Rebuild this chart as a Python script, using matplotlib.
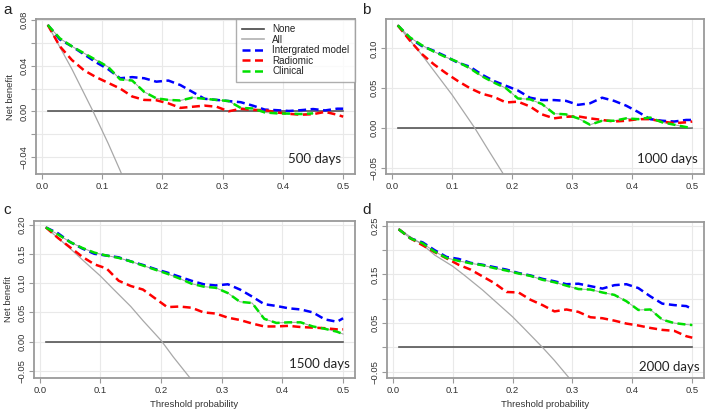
import numpy as np
import matplotlib.pyplot as plt
from matplotlib.lines import Line2D

plt.rcParams["font.family"] = ["Liberation Sans", "DejaVu Sans"]

thresholds = [0.01, 0.03, 0.05, 0.07, 0.09, 0.11, 0.13, 0.15, 0.17, 0.19, 0.21, 0.23, 0.25,
              0.27, 0.29, 0.31, 0.33, 0.35, 0.37, 0.39, 0.41, 0.43, 0.45, 0.47, 0.49, 0.50]
none_x = [0.01, 0.50]
none_y = [0.0, 0.0]

xticks = [0.0, 0.1, 0.2, 0.3, 0.4, 0.5]
xtick_labels = ["0.0", "0.1", "0.2", "0.3", "0.4", "0.5"]
legend_labels = ["None", "All", "Intergrated model", "Radiomic", "Clinical"]

# a - 500 days
a_integrated = [0.0757, 0.063, 0.057, 0.050, 0.043, 0.037, 0.029, 0.030, 0.029, 0.026, 0.027, 0.023, 0.017,
                0.011, 0.010, 0.009, 0.008, 0.005, 0.0015, 0.001, 0.0003, 0.001, 0.002, 0.0008, 0.0023, 0.0023]
a_radiomic = [0.0757, 0.057, 0.045, 0.036, 0.030, 0.025, 0.020, 0.013, 0.010, 0.0097, 0.007, 0.003, 0.004,
              0.005, 0.004, 0.000, 0.0022, 0.0012, 0.0011, -0.001, -0.0022, -0.003, -0.0025, -0.0005, -0.003, -0.0047]
a_clinical = [0.0757, 0.064, 0.057, 0.051, 0.045, 0.039, 0.028, 0.027, 0.017, 0.0114, 0.010, 0.0095, 0.012,
              0.011, 0.010, 0.009, 0.003, 0.0025, -0.001, -0.0018, -0.002, -0.0024, -0.0018, np.nan, np.nan, np.nan]
a_all_x = [0.01, 0.05, 0.085, 0.11, 0.13, 0.15]
a_all = [0.0757, 0.037, 0.0, -0.028, -0.052, -0.077]
a_yticks = [-0.04, -0.02, 0.0, 0.02, 0.04, 0.06, 0.08]
a_ylabels = ["\u22120.04", "", "0.00", "", "0.04", "", "0.08"]

# b - 1000 days
b_integrated = [0.129, 0.113, 0.103, 0.097, 0.090, 0.082, 0.077, 0.067, 0.059, 0.053, 0.047, 0.038, 0.035,
                0.035, 0.034, 0.029, 0.031, 0.038, 0.034, 0.028, 0.020, 0.011, 0.009, 0.008, 0.010, 0.010]
b_radiomic = [0.129, 0.110, 0.093, 0.080, 0.069, 0.059, 0.050, 0.043, 0.039, 0.032, 0.033, 0.027, 0.017,
              0.012, 0.014, 0.0145, 0.012, 0.010, 0.008, 0.009, 0.011, 0.011, 0.008, 0.006, 0.007, 0.008]
b_clinical = [0.129, 0.114, 0.104, 0.096, 0.089, 0.083, 0.075, 0.065, 0.057, 0.050, 0.037, 0.036, 0.030,
              0.018, 0.017, 0.012, 0.004, 0.009, 0.009, 0.012, 0.011, 0.013, 0.007, 0.004, 0.001, 0.000]
b_all_x = [0.01, 0.05, 0.10, 0.138, 0.16, 0.184, 0.20]
b_all = [0.129, 0.092, 0.042, 0.0, -0.027, -0.056, -0.078]
b_yticks = [-0.05, 0.0, 0.05, 0.10]
b_ylabels = ["\u22120.05", "0.00", "0.05", "0.10"]

# c - 1500 days
c_integrated = [0.195, 0.185, 0.170, 0.159, 0.150, 0.147, 0.144, 0.137, 0.131, 0.124, 0.118, 0.111, 0.104,
                0.098, 0.096, 0.098, 0.089, 0.077, 0.064, 0.061, 0.057, 0.055, 0.050, 0.038, 0.034, 0.040]
c_radiomic = [0.195, 0.177, 0.161, 0.145, 0.132, 0.125, 0.104, 0.095, 0.089, 0.074, 0.059, 0.060, 0.058,
              0.050, 0.048, 0.041, 0.037, 0.031, 0.026, 0.026, 0.027, 0.025, 0.024, 0.023, 0.021, 0.021]
c_clinical = [0.195, 0.183, 0.170, 0.160, 0.152, 0.147, 0.143, 0.137, 0.130, 0.123, 0.116, 0.108, 0.099,
              0.094, 0.092, 0.083, 0.068, 0.066, 0.039, 0.032, 0.033, 0.033, 0.026, 0.022, 0.017, 0.013]
c_all_x = [0.01, 0.03, 0.05, 0.07, 0.10, 0.12, 0.15, 0.17, 0.20, 0.22, 0.25, 0.27]
c_all = [0.195, 0.177, 0.159, 0.140, 0.112, 0.091, 0.060, 0.036, 0.002, -0.026, -0.065, -0.095]
c_yticks = [-0.05, 0.0, 0.05, 0.10, 0.15, 0.20]
c_ylabels = ["\u22120.05", "0.00", "0.05", "0.10", "0.15", "0.20"]

# d - 2000 days
d_integrated = [0.243, 0.224, 0.216, 0.200, 0.186, 0.182, 0.174, 0.170, 0.165, 0.160, 0.153, 0.148, 0.141,
                0.136, 0.130, 0.131, 0.126, 0.121, 0.128, 0.130, 0.122, 0.105, 0.090, 0.087, 0.085, 0.079]
d_radiomic = [0.243, 0.224, 0.210, 0.196, 0.183, 0.170, 0.160, 0.146, 0.132, 0.114, 0.113, 0.098, 0.087,
              0.074, 0.078, 0.073, 0.062, 0.060, 0.055, 0.049, 0.045, 0.040, 0.036, 0.034, 0.023, 0.020]
d_clinical = [0.243, 0.224, 0.214, 0.197, 0.184, 0.178, 0.173, 0.169, 0.163, 0.158, 0.152, 0.147, 0.139,
              0.134, 0.127, 0.120, 0.119, 0.113, 0.108, 0.095, 0.077, 0.078, 0.057, 0.050, 0.047, 0.046]
d_all_x = [0.01, 0.03, 0.05, 0.07, 0.10, 0.12, 0.15, 0.17, 0.20, 0.22, 0.25, 0.27, 0.30, 0.32]
d_all = [0.244, 0.227, 0.211, 0.190, 0.167, 0.148, 0.118, 0.096, 0.063, 0.038, 0.000, -0.027, -0.071, -0.103]
d_yticks = [-0.05, 0.0, 0.05, 0.10, 0.15, 0.20, 0.25]
d_ylabels = ["\u22120.05", "", "0.05", "", "0.15", "", "0.25"]

GRAY_AXIS = "#9a9a9a"
TXT = "#333333"


def draw_panel(ax, integrated, radiomic, clinical, all_x, all_y, ylim, yticks, ylabels, days, days_pos):
    ax.set_xlim(-0.0096, 0.5196)
    ax.set_ylim(*ylim)
    ax.set_xticks(xticks)
    ax.set_xticklabels(xtick_labels)
    ax.set_yticks(yticks)
    ax.set_yticklabels(ylabels, rotation=90, va="center")
    ax.tick_params(labelsize=6.8, colors=TXT, length=3.5, width=0.8, pad=2)
    ax.tick_params(color=GRAY_AXIS)
    for s in ax.spines.values():
        s.set_color(GRAY_AXIS)
        s.set_linewidth(1.3)
    ax.grid(True, color="#e9e9e9", linewidth=0.8)
    ax.set_axisbelow(True)

    ax.plot(none_x, none_y, color="#555555", lw=1.2)
    ax.plot(all_x, all_y, color="#a8a8a8", lw=0.9)
    ax.plot(thresholds, clinical, color="#a0a0a0", lw=0.7)
    ax.plot(thresholds, integrated, color="blue", lw=1.8, dashes=(3.2, 1.8))
    ax.plot(thresholds, radiomic, color="red", lw=1.8, dashes=(3.2, 1.8))
    ax.plot(thresholds, clinical, color="#00e000", lw=1.8, dashes=(3.2, 1.8))

    ax.text(days_pos[0], days_pos[1], days, transform=ax.transAxes, ha="right", va="baseline",
            fontsize=9.5, color="#222222", family=["Lato", "DejaVu Sans"])


fig = plt.figure(figsize=(7.09, 4.18), dpi=100)
W, H = 709, 418

ax_a = fig.add_axes([36 / W, 1 - 174 / H, 319 / W, 155 / H])
ax_b = fig.add_axes([386 / W, 1 - 174 / H, 318 / W, 155 / H])
ax_c = fig.add_axes([34 / W, 1 - 378 / H, 321 / W, 157 / H])
ax_d = fig.add_axes([387 / W, 1 - 378 / H, 317 / W, 156 / H])

draw_panel(ax_a, a_integrated, a_radiomic, a_clinical, a_all_x, a_all, (-0.055, 0.081),
           a_yticks, a_ylabels, "500 days", (0.958, 0.071))
draw_panel(ax_b, b_integrated, b_radiomic, b_clinical, b_all_x, b_all, (-0.058, 0.137),
           b_yticks, b_ylabels, "1000 days", (0.981, 0.071))
draw_panel(ax_c, c_integrated, c_radiomic, c_clinical, c_all_x, c_all, (-0.062, 0.206),
           c_yticks, c_ylabels, "1500 days", (0.984, 0.064))
draw_panel(ax_d, d_integrated, d_radiomic, d_clinical, d_all_x, d_all, (-0.063, 0.258),
           d_yticks, d_ylabels, "2000 days", (0.987, 0.047))

for ax in (ax_a, ax_c):
    ax.set_ylabel("Net benefit", fontsize=6.8, color=TXT, labelpad=3)
for ax in (ax_c, ax_d):
    ax.set_xlabel("Threshold probability", fontsize=6.8, color=TXT, labelpad=4)

handles = [
    Line2D([], [], color="#444444", lw=1.2),
    Line2D([], [], color="#b0b0b0", lw=1.2),
    Line2D([], [], color="blue", lw=1.8, dashes=(3.2, 1.8)),
    Line2D([], [], color="red", lw=1.8, dashes=(3.2, 1.8)),
    Line2D([], [], color="#00e000", lw=1.8, dashes=(3.2, 1.8)),
]
leg = ax_a.legend(handles, legend_labels, loc="upper right", bbox_to_anchor=(1.0, 1.0),
                  fontsize=7.1, frameon=True, fancybox=False, borderaxespad=0,
                  handlelength=2.3, handletextpad=0.8, labelspacing=0.05, borderpad=0.55)
leg.get_frame().set_edgecolor(GRAY_AXIS)
leg.get_frame().set_linewidth(1.0)
for t in leg.get_texts():
    t.set_color("#222222")

for letter, x, y in [("a", 3, 14), ("b", 362, 14), ("c", 3, 214), ("d", 362, 214)]:
    fig.text(x / W, 1 - y / H, letter, fontsize=11, color="#222222", va="baseline")

fig.savefig("out.png", dpi=100)
